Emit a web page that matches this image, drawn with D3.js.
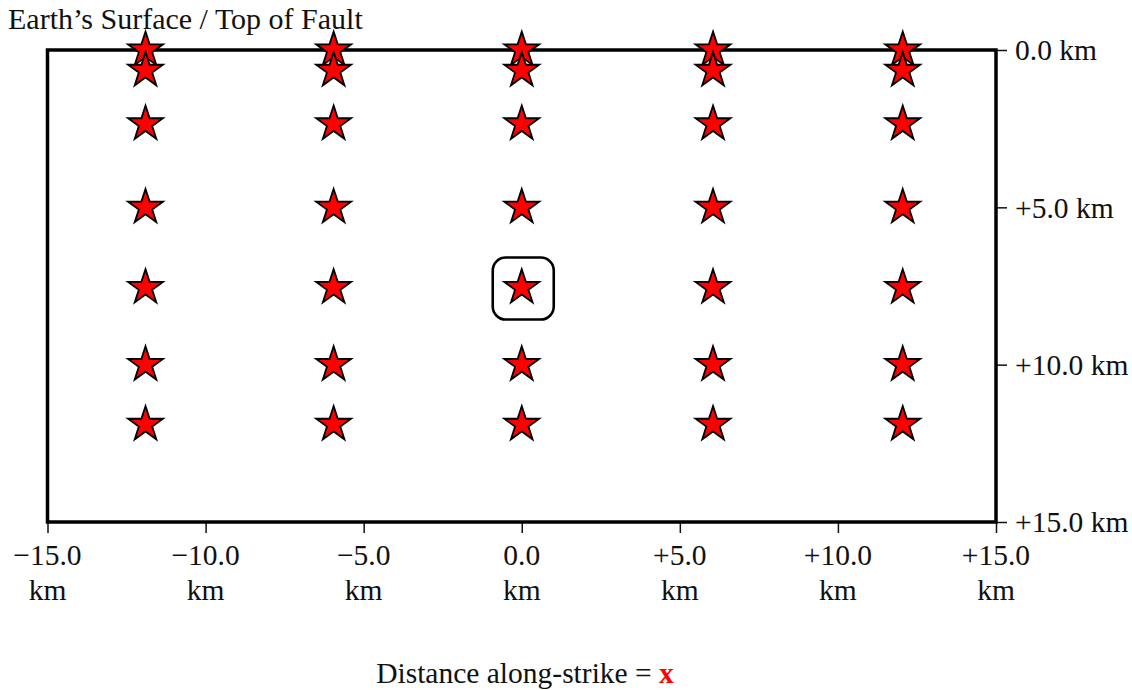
<!DOCTYPE html>
<html>
<head>
<meta charset="utf-8">
<script src="https://cdn.jsdelivr.net/npm/d3@7"></script>
<style>
  body { margin: 0; background: #fff; }
  text { font-family: "Liberation Serif", "Times New Roman", serif; fill: #111; }
</style>
</head>
<body>
<div id="chartArea"></div>
<script>
const width = 1132;
const height = 690;

// along-strike positions (km) and depths (km) of the sources
const strikeKm = [-11.9, -5.95, 0.0, 6.05, 12.05];
const depthKm = [0.0, 0.65, 2.35, 5.0, 7.55, 10.0, 11.9];
const xTicks = [-15, -10, -5, 0, 5, 10, 15];
const yTicks = [0, 5, 10, 15];
const highlight = { x: 0.0, y: 7.55 };

const titleText = "Earth\u2019s Surface / Top of Fault";
const axisLabel = "Distance along-strike = ";

const frame = { left: 47.5, right: 996, top: 50, bottom: 522 };

const svg = d3.select("#chartArea")
    .append("svg")
    .attr("width", width)
    .attr("height", height);

const x = d3.scaleLinear().domain([-15, 15]).range([frame.left, frame.right]);
const y = d3.scaleLinear().domain([0, 15]).range([frame.top, frame.bottom]);

const fmt = v => (v < 0 ? "\u2212" : v > 0 ? "+" : "") + Math.abs(v).toFixed(1);

// bottom axis: ticks only, labels drawn on two lines below
const xAxis = svg.append("g")
    .attr("transform", `translate(0,${frame.bottom})`)
    .call(d3.axisBottom(x).tickValues(xTicks).tickSize(11).tickFormat(""));
xAxis.select(".domain").remove();
xAxis.selectAll(".tick line").attr("stroke", "#111").attr("stroke-width", 1.5);

const xLab = svg.append("g").selectAll("text")
    .data(xTicks)
    .enter().append("text")
    .attr("text-anchor", "middle")
    .style("font-size", "29.5px");
xLab.append("tspan")
    .attr("x", d => x(d))
    .attr("y", 565)
    .text(d => fmt(d));
xLab.append("tspan")
    .attr("x", d => x(d))
    .attr("y", 600)
    .text("km");

// right axis
const yAxis = svg.append("g")
    .attr("transform", `translate(${frame.right},0)`)
    .call(d3.axisRight(y).tickValues(yTicks).tickSize(11).tickPadding(8)
        .tickFormat(d => fmt(d) + " km"));
yAxis.select(".domain").remove();
yAxis.selectAll(".tick line").attr("stroke", "#111").attr("stroke-width", 1.5);
yAxis.selectAll(".tick text")
    .style("font-size", "29.5px")
    .attr("fill", "#111")
    .attr("dy", "0.33em");

// frame
svg.append("rect")
    .attr("x", frame.left)
    .attr("y", frame.top)
    .attr("width", frame.right - frame.left)
    .attr("height", frame.bottom - frame.top)
    .attr("fill", "none")
    .attr("stroke", "#000")
    .attr("stroke-width", 3.5);

// stars
const points = [];
strikeKm.forEach(sx => depthKm.forEach(dy => points.push({ x: sx, y: dy })));

const star = d3.symbol().type(d3.symbolStar).size(380);

svg.append("g")
    .selectAll("path")
    .data(points)
    .enter().append("path")
    .attr("d", star)
    .attr("transform", d => `translate(${x(d.x)},${y(d.y)})`)
    .attr("fill", "#ff0000")
    .attr("stroke", "#000")
    .attr("stroke-width", 1.8)
    .attr("stroke-linejoin", "miter");

// highlight box
svg.append("rect")
    .attr("x", x(highlight.x) - 29)
    .attr("y", y(highlight.y) - 30)
    .attr("width", 61)
    .attr("height", 62)
    .attr("rx", 13)
    .attr("fill", "none")
    .attr("stroke", "#000")
    .attr("stroke-width", 2.6);

// title
svg.append("text")
    .attr("x", 8)
    .attr("y", 29)
    .style("font-size", "30px")
    .text(titleText);

// axis label
const lab = svg.append("text")
    .attr("x", 525)
    .attr("y", 683)
    .attr("text-anchor", "middle")
    .style("font-size", "29.5px");
lab.append("tspan").text(axisLabel);
lab.append("tspan")
    .style("fill", "#ff0000")
    .style("font-weight", "bold")
    .text("x");
</script>
</body>
</html>
